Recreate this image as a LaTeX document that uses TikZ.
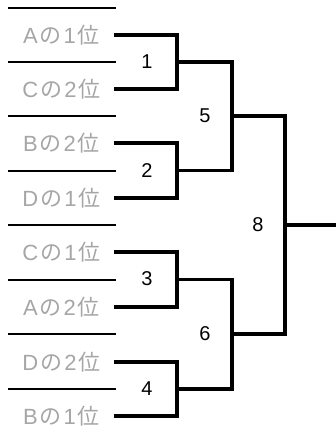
\documentclass[tikz,border=0pt]{standalone}
\usepackage{fontspec}
\setmainfont{Liberation Sans}
\newfontfamily\jpfont{Noto Sans CJK JP}
\newcommand{\jp}[1]{{\jpfont #1}}
\newcommand{\tm}[3]{#1\kern2pt\jp{の}\kern2pt#2\kern2pt\jp{#3}}
\definecolor{teamgray}{HTML}{A6A6A6}
\tikzset{
  team/.style={text=teamgray, font=\fontsize{22}{22}\selectfont, inner sep=0pt, anchor=center},
  matchno/.style={text=black, font=\fontsize{20}{20}\selectfont, inner sep=0pt, anchor=center},
  sep/.style={line width=1.1pt, draw=black},
  bracket/.style={line width=3.1pt, draw=black, line join=miter}
}
\begin{document}
\begin{tikzpicture}[x=1pt, y=-1pt]
\useasboundingbox (0,0) rectangle (336,441);
% separators
\foreach \yy in {8,62,116,171,225,280,334,389} {
  \draw[sep] (8,\yy) -- (116,\yy);
}
% teams
\node[team] (t1) at (61.5,35.5) {\tm{A}{1}{位}};
\node[team] (t2) at (61.5,89.5) {\tm{C}{2}{位}};
\node[team] (t3) at (61.5,143.5) {\tm{B}{2}{位}};
\node[team] (t4) at (61.5,198) {\tm{D}{1}{位}};
\node[team] (t5) at (61.5,252.5) {\tm{C}{1}{位}};
\node[team] (t6) at (61.5,307) {\tm{A}{2}{位}};
\node[team] (t7) at (61.5,362) {\tm{D}{2}{位}};
\node[team] (t8) at (61.5,416) {\tm{B}{1}{位}};
% line starts
\coordinate (s1) at (114,35);
\coordinate (s2) at (114,89);
\coordinate (s3) at (114,143);
\coordinate (s4) at (114,198);
\coordinate (s5) at (114,252);
\coordinate (s6) at (114,307);
\coordinate (s7) at (114,362);
\coordinate (s8) at (114,416);
% junctions
\coordinate (j1) at (177,62);
\coordinate (j2) at (177,170.5);
\coordinate (j3) at (177,279.5);
\coordinate (j4) at (177,389);
\coordinate (j5) at (232,116);
\coordinate (j6) at (232,334);
\coordinate (j8) at (285,225);
\coordinate (out) at (336,225);
% brackets
\draw[bracket] (s1) -| (j1) |- (s2);
\draw[bracket] (s3) -| (j2) |- (s4);
\draw[bracket] (s5) -| (j3) |- (s6);
\draw[bracket] (s7) -| (j4) |- (s8);
\draw[bracket] (j1) -| (j5) |- (j2);
\draw[bracket] (j3) -| (j6) |- (j4);
\draw[bracket] (j5) -| (j8) |- (j6);
\draw[bracket] (j8) -- (out);
% match numbers
\node[matchno] (m1) at (147,62) {1};
\node[matchno] (m2) at (147,171) {2};
\node[matchno] (m3) at (147,279) {3};
\node[matchno] (m4) at (147,389) {4};
\node[matchno] (m5) at (205,116) {5};
\node[matchno] (m6) at (205,334) {6};
\node[matchno] (m8) at (258,225) {8};
\end{tikzpicture}
\end{document}
